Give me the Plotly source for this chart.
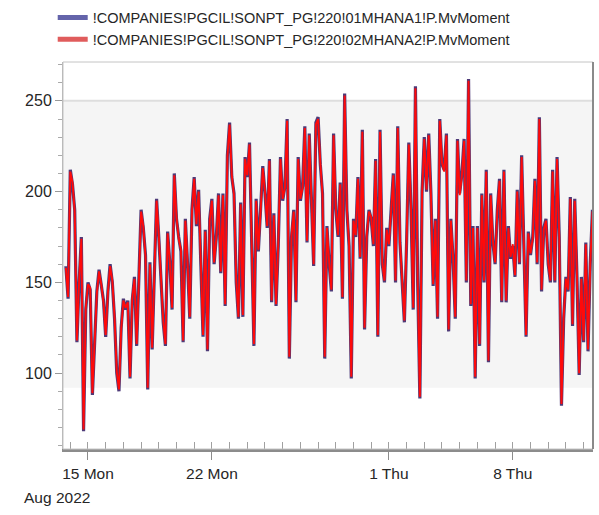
import plotly.graph_objects as go
import pandas as pd

# ---- data (3-hourly samples) ----
start_time = "2022-08-13 18:00"
sample_freq = "3h"

mhana1 = [
    159, 141, 212, 204, 190, 117, 150, 175, 68, 135,
    150, 146, 88, 120, 145, 157, 148, 140, 120, 145,
    160, 150, 130, 100, 90, 125, 141, 135, 140, 97,
    140, 153, 115, 150, 190, 180, 165, 91, 161, 113,
    150, 196, 175, 150, 128, 115, 178, 160, 135, 210,
    185, 175, 167, 117, 185, 160, 130, 190, 208, 181,
    201, 160, 120, 179, 112, 185, 196, 160, 175, 199,
    155, 199, 137, 220, 238, 208, 199, 150, 130, 194,
    131, 219, 208, 227, 175, 115, 196, 167, 190, 214,
    199, 180, 218, 139, 188, 137, 170, 219, 195, 203,
    240, 108, 175, 190, 139, 219, 195, 203, 236, 172,
    232, 195, 159, 238, 241, 215, 199, 108, 181, 160,
    145, 232, 190, 175, 205, 141, 254, 190, 170, 97,
    185, 175, 208, 163, 234, 124, 175, 190, 185, 170,
    218, 120, 234, 160, 150, 180, 170, 190, 210, 150,
    236, 172, 150, 128, 172, 227, 190, 135, 258, 150,
    86, 200, 230, 200, 232, 199, 148, 185, 130, 240,
    215, 212, 232, 123, 185, 163, 130, 229, 199, 210,
    229, 150, 262, 137, 181, 97, 181, 115, 199, 150,
    212, 106, 199, 172, 160, 190, 207, 139, 212, 139,
    181, 163, 170, 153, 201, 160, 220, 163, 120, 178,
    165, 175, 207, 160, 241, 145, 180, 185, 160, 150,
    212, 150, 219, 175, 82, 130, 153, 145, 197, 126,
    196, 153, 99, 153, 117, 172, 112, 160, 190,
]

mhana2 = [
    158, 142, 211, 205, 189, 118, 151, 174, 69, 136,
    149, 147, 89, 121, 144, 156, 149, 139, 121, 144,
    159, 151, 131, 101, 91, 124, 140, 136, 139, 98,
    141, 152, 116, 151, 189, 181, 164, 92, 160, 114,
    151, 195, 176, 149, 129, 116, 177, 161, 136, 209,
    186, 174, 168, 118, 184, 161, 131, 189, 207, 182,
    200, 161, 121, 178, 113, 184, 195, 161, 174, 198,
    156, 198, 138, 219, 237, 209, 198, 151, 131, 193,
    132, 218, 209, 226, 176, 116, 195, 168, 189, 213,
    200, 181, 217, 140, 187, 138, 171, 218, 196, 202,
    239, 109, 176, 189, 140, 218, 196, 202, 235, 173,
    231, 196, 160, 237, 240, 216, 198, 109, 180, 161,
    146, 231, 191, 176, 204, 142, 253, 191, 171, 98,
    184, 176, 207, 164, 233, 125, 176, 189, 186, 171,
    217, 121, 233, 161, 151, 179, 171, 189, 209, 151,
    235, 173, 151, 129, 173, 226, 191, 136, 257, 151,
    87, 199, 229, 201, 231, 198, 149, 184, 131, 239,
    216, 211, 231, 124, 184, 164, 131, 228, 198, 209,
    228, 151, 261, 138, 180, 98, 180, 116, 198, 151,
    211, 107, 198, 173, 161, 189, 206, 140, 211, 140,
    180, 164, 171, 154, 200, 161, 219, 164, 121, 177,
    166, 174, 206, 161, 240, 146, 179, 184, 161, 151,
    211, 151, 218, 176, 83, 131, 152, 146, 196, 127,
    195, 154, 100, 152, 118, 171, 113, 159, 189,
]

series_names = [
    "!COMPANIES!PGCIL!SONPT_PG!220!01MHANA1!P.MvMoment",
    "!COMPANIES!PGCIL!SONPT_PG!220!02MHANA2!P.MvMoment",
]
tick_dates = ["2022-08-15", "2022-08-22", "2022-09-01", "2022-09-08"]
tick_labels = ["15 Mon", "22 Mon", "1 Thu", "8 Thu"]
y_ticks = [100, 150, 200, 250]
band_range = [92, 250]
x_range = ["2022-08-13 14:07", "2022-09-12 12:45"]
y_range = [58.2, 271.4]
year_label = "Aug 2022"

times = pd.date_range(start_time, periods=len(mhana1), freq=sample_freq)

FONT = "Liberation Sans, Arial, sans-serif"
TXT = "#262626"

fig = go.Figure()
fig.add_trace(go.Scatter(x=times, y=mhana1, mode="lines",
                         line=dict(color="#4e3a78", width=3.2),
                         showlegend=False, hoverinfo="skip"))
fig.add_trace(go.Scatter(x=times, y=mhana2, mode="lines",
                         line=dict(color="#ff0a0a", width=1.9),
                         showlegend=False, hoverinfo="skip"))
# legend entries
fig.add_trace(go.Scatter(x=[None], y=[None], mode="lines", name=series_names[0],
                         line=dict(color="#6464aa", width=5)))
fig.add_trace(go.Scatter(x=[None], y=[None], mode="lines", name=series_names[1],
                         line=dict(color="#e05c5c", width=5)))

fig.update_layout(
    width=599, height=515,
    margin=dict(l=63, r=6, t=62, b=66, autoexpand=False),
    paper_bgcolor="white", plot_bgcolor="white",
    font=dict(family=FONT, size=15, color=TXT),
    legend=dict(xref="container", yref="container",
                x=0.088, xanchor="left", y=0.997, yanchor="top",
                bgcolor="rgba(0,0,0,0)", font=dict(size=14.5, color=TXT),
                tracegroupgap=0),
    shapes=[
        dict(type="rect", xref="paper", yref="y", x0=0, x1=1,
             y0=band_range[0], y1=band_range[1], fillcolor="#f5f5f5",
             line=dict(width=0), layer="below"),
        dict(type="line", xref="paper", yref="y", x0=0, x1=1,
             y0=band_range[1], y1=band_range[1],
             line=dict(color="#dedede", width=2), layer="below"),
        dict(type="rect", xref="paper", yref="paper", x0=0, x1=1, y0=0, y1=1,
             line=dict(color="#c4c4c4", width=1)),
        dict(type="line", xref="paper", yref="paper", x0=1, x1=1, y0=0, y1=1,
             line=dict(color="#8a8a8a", width=2)),
    ],
    annotations=[
        dict(text=year_label, xref="paper", yref="paper", x=-0.077, y=-0.125,
             xanchor="left", yanchor="middle", showarrow=False,
             font=dict(size=15.5, color=TXT)),
    ],
)

fig.update_xaxes(
    type="date", range=x_range,
    tickvals=tick_dates, ticktext=tick_labels,
    ticks="outside", ticklen=8, tickcolor="#8c8c8c", tickwidth=1,
    showgrid=False, zeroline=False,
    showline=True, linecolor="#8c8c8c", linewidth=3,
    tickfont=dict(size=15.5, color=TXT),
    minor=dict(dtick=86400000, tick0="2022-08-15", ticks="inside",
               ticklen=7, tickcolor="#a0a0a0", showgrid=False),
)
fig.update_yaxes(
    range=y_range, tickvals=y_ticks,
    ticks="outside", ticklen=7, tickcolor="#999999",
    showgrid=False, zeroline=False,
    showline=True, linecolor="#b0b0b0", linewidth=1,
    tickfont=dict(size=16, color=TXT),
    minor=dict(dtick=10, tick0=0, ticks="outside", ticklen=4,
               tickcolor="#aaaaaa", showgrid=False),
)

fig.write_html("out.html")
